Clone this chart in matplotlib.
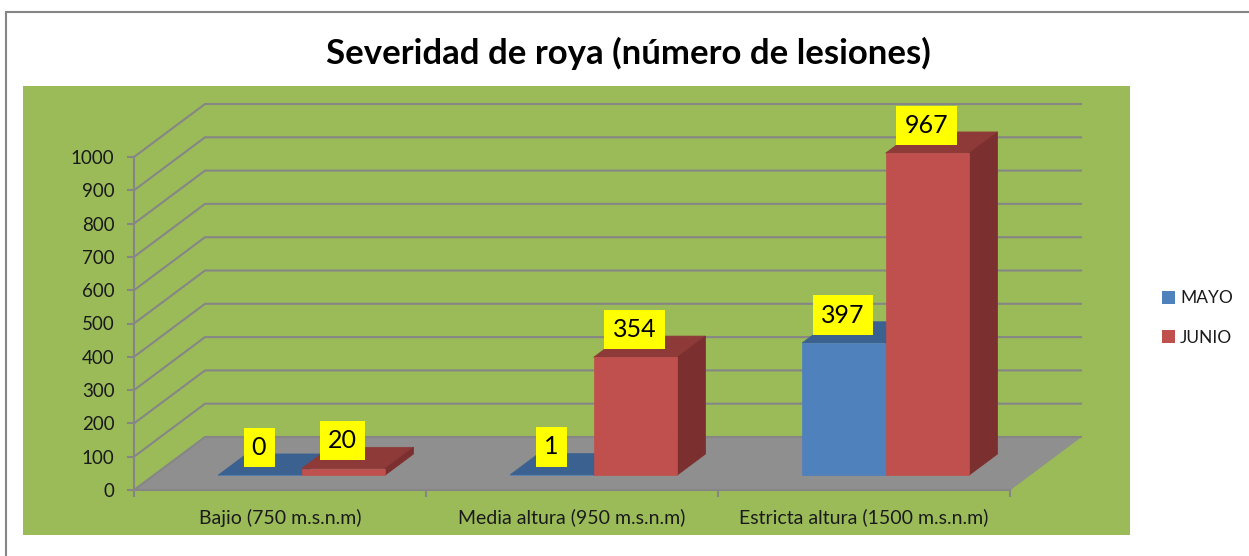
import matplotlib
matplotlib.use("Agg")
import matplotlib.pyplot as plt
from matplotlib.patches import Patch, Rectangle

categories = ["Bajio (750 m.s.n.m)", "Media altura (950 m.s.n.m)", "Estricta altura (1500 m.s.n.m)"]
mayo = [0, 1, 397]
junio = [20, 354, 967]
y_ticks = [0, 100, 200, 300, 400, 500, 600, 700, 800, 900, 1000]

W, H = 1249, 556
plt.rcParams['font.family'] = ['Lato', 'DejaVu Sans']

fig = plt.figure(figsize=(W / 100, H / 100), dpi=100, facecolor='white')

# outer frame and green plot area, in pixels of the picture
def fig_rect(x0, y0, x1, y1, **kw):
    fig.add_artist(Rectangle((x0 / W, 1 - y1 / H), (x1 - x0) / W, (y1 - y0) / H,
                             transform=fig.transFigure, zorder=-1, **kw))

fig_rect(6, 12, 1300, 600, facecolor='white', edgecolor='#868686', linewidth=1.5)
fig_rect(23, 86, 1130, 535, facecolor='#9bbb59', edgecolor='none')

# front plane of the 3d box
ax = fig.add_axes([134 / W, 1 - 490 / H, 876 / W, 333 / H])
ax.patch.set_alpha(0)
ax.set_xlim(0, 3)
ax.set_ylim(0, 1000)

# depth of the box in data units
depth_x = 71 / 292
depth_y = 53 / 0.333
bar_w = 0.286
first_bar = 0.22
near = 0.28
far = 0.68
grid_c = '#868686'

def shift(x, y, d):
    return x + d * depth_x, y + d * depth_y

def poly(pts, color, z):
    ax.fill([p[0] for p in pts], [p[1] for p in pts], color=color, lw=0.5, zorder=z, clip_on=False)

# floor
poly([(0, 0), (3, 0), shift(3, 0, 1), shift(0, 0, 1)], '#8f8f8f', 1)

# walls
for t in y_ticks:
    bx, by = shift(0, t, 1)
    ax.plot([0, bx, 3 + depth_x], [t, by, by], color=grid_c, lw=1.5, zorder=2, clip_on=False,
            solid_joinstyle='miter')

def bar3d(x, value, front, top, side, z):
    x0, y0 = shift(x, 0, near)
    x1 = x0 + bar_w
    poly([(x0, y0), (x1, y0), (x1, y0 + value), (x0, y0 + value)], front, z + 0.2)
    poly([(x0, y0 + value), (x1, y0 + value), shift(x1, y0 + value, far - near), shift(x0, y0 + value, far - near)], top, z)
    poly([(x1, y0), shift(x1, y0, far - near), shift(x1, y0 + value, far - near), (x1, y0 + value)], side, z + 0.1)
    ax.annotate(str(value), (x0 + bar_w / 2 - 0.003, y0 + value), xytext=(0, 21.5), textcoords='offset points',
                ha='center', va='center_baseline', fontsize=18, color='black', zorder=10, annotation_clip=False,
                bbox=dict(facecolor='#ffff00', edgecolor='none', pad=6))

for i in range(len(categories)):
    bar3d(i + first_bar, mayo[i], '#4f81bd', '#3b6190', '#335478', 3 + i)
    bar3d(i + first_bar + bar_w, junio[i], '#c0504d', '#8e3a38', '#7b2f2e', 3.5 + i)

# axes, ticks and labels
for s in ['top', 'right']:
    ax.spines[s].set_visible(False)
for s in ['left', 'bottom']:
    ax.spines[s].set_color(grid_c)
    ax.spines[s].set_linewidth(1.5)
ax.set_yticks(y_ticks)
ax.set_xticks([0, 1, 2, 3])
ax.set_xticklabels([])
ax.set_xticks([0.5, 1.5, 2.5], minor=True)
ax.set_xticklabels(categories, minor=True)
ax.tick_params(axis='y', length=5, width=1.5, color=grid_c, labelsize=13.5, pad=9, labelcolor='#1a1a1a')
ax.tick_params(axis='x', which='major', length=5, width=1.5, color=grid_c)
ax.tick_params(axis='x', which='minor', length=0, labelsize=14, pad=13.5, labelcolor='#1a1a1a')
for lab in ax.get_yticklabels():
    lab.set_va('center_baseline')

fig.text(628 / W, 1 - 53 / H, "Severidad de roya (número de lesiones)", ha='center', va='center',
         fontsize=25, fontweight='bold', color='black')

handles = [Patch(facecolor='#4f81bd', edgecolor='none'), Patch(facecolor='#c0504d', edgecolor='none')]
fig.legend(handles, ['MAYO', 'JUNIO'], loc='center left', bbox_to_anchor=(1149.5 / W, 1 - 318 / H),
           frameon=False, fontsize=12.5, handlelength=0.75, handleheight=0.75, handletextpad=0.3,
           labelspacing=1.35, labelcolor='#1a1a1a', borderpad=0.2)

fig.savefig("out.png", dpi=100)
